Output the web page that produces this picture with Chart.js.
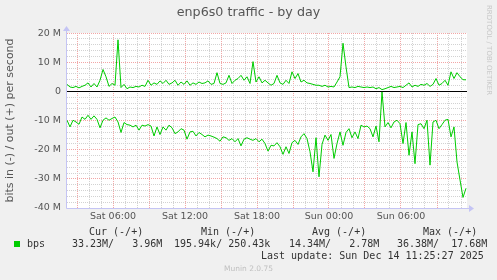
<!DOCTYPE html>
<html>
<head>
<meta charset="utf-8">
<title>enp6s0 traffic - by day</title>
<script src="https://cdn.jsdelivr.net/npm/chart.js@4.4.1/dist/chart.umd.min.js"></script>
<style>
  html, body { margin: 0; padding: 0; background: #f0f0f0; }
  #wrap { position: relative; width: 497px; height: 280px; overflow: hidden; }
  #graph { position: absolute; left: 0; top: 0; }
  .mono { position: absolute; font-family: 'DejaVu Sans Mono', monospace; font-size: 10px; line-height: 12px; color: #333; white-space: pre; }
  .swatch { position: absolute; left: 14px; top: 241px; width: 6px; height: 6px; background: #00cc00; }
  .credit { position: absolute; left: 0; width: 497px; top: 264px; text-align: center; font-family: 'DejaVu Sans', sans-serif; font-size: 7.5px; line-height: 10px; color: #c0c0c0; }
  .rrd { position: absolute; left: 484px; top: 5px; font-family: 'DejaVu Sans', sans-serif; font-size: 7px; line-height: 9px; color: #c8c8c8; white-space: pre; transform-origin: 0 0; transform: translate(9px, 0) rotate(90deg); }
</style>
</head>
<body>
<div id="wrap">
  <canvas id="graph" width="497" height="280"></canvas>
  <div class="rrd">RRDTOOL / TOBI OETIKER</div>
  <div class="mono" style="left:89px; top:226px">Cur (-/+)</div>
  <div class="mono" style="left:201px; top:226px">Min (-/+)</div>
  <div class="mono" style="left:312px; top:226px">Avg (-/+)</div>
  <div class="mono" style="left:423px; top:226px">Max (-/+)</div>
  <div class="swatch"></div>
  <div class="mono" style="left:27px; top:238px">bps</div>
  <div class="mono" id="cur" style="left:72px; top:238px"></div>
  <div class="mono" id="min" style="left:174px; top:238px"></div>
  <div class="mono" id="avg" style="left:289px; top:238px"></div>
  <div class="mono" id="max" style="left:397px; top:238px"></div>
  <div class="mono" style="left:261px; top:250px">Last update: Sun Dec 14 11:25:27 2025</div>
  <div class="credit">Munin 2.0.75</div>
</div>
<script>
// samples every 15 minutes, first one at Sat 02:10 (hours counted from Sat 00:00)
const startHour = 2 + 10 / 60;
const stepHours = 0.25;
const endHour = startHour + 400 / 12;

// out (+), Mbit/s
const outMbps = [
  2.4, 1.5, 1.3, 1.7, 1.2, 1.7, 2.1, 2.9, 1.5, 2.7,
  1.5, 3.8, 7.5, 5.0, 1.7, 2.7, 2.1, 17.68, 1.3, 2.4,
  0.9, 1.5, 1.3, 1.7, 1.5, 2.1, 1.7, 3.8, 2.1, 2.9,
  2.4, 3.6, 2.7, 3.8, 2.4, 2.9, 3.8, 2.1, 3.2, 2.4,
  3.6, 2.1, 2.9, 2.4, 3.2, 2.7, 2.9, 3.6, 2.4, 2.7,
  6.4, 2.7, 2.4, 2.9, 5.5, 2.7, 3.8, 4.4, 5.5, 3.8,
  5.0, 2.7, 10.2, 3.2, 5.0, 2.9, 3.8, 2.9, 2.1, 2.7,
  5.5, 2.9, 2.4, 3.8, 2.7, 6.7, 4.4, 6.1, 3.2, 3.8,
  2.9, 2.7, 2.4, 2.1, 2.1, 1.7, 2.1, 1.5, 1.7, 1.5,
  3.2, 5.0, 16.5, 8.4, 1.3, 1.5, 1.3, 1.7, 1.5, 1.3,
  1.5, 1.3, 1.5, 0.9, 1.3, 0.6, 0.9, 1.3, 1.7, 1.3,
  1.5, 1.7, 1.3, 2.1, 2.9, 1.5, 2.1, 1.7, 2.4, 2.1,
  2.7, 1.7, 2.4, 4.4, 2.1, 2.7, 3.8, 2.1, 6.7, 4.4,
  6.4, 5.0, 4.0, 3.96
];

// in (-), Mbit/s, drawn below zero
const inMbps = [
  -9.9, -12.2, -9.9, -10.5, -11.3, -8.8, -9.6, -8.2, -9.6, -8.4,
  -9.6, -12.5, -9.9, -9.1, -9.9, -9.3, -8.8, -10.5, -14.1, -10.7,
  -11.4, -11.6, -12.2, -11.6, -13.3, -11.6, -11.9, -11.4, -11.9, -15.3,
  -12.2, -14.8, -12.2, -13.3, -11.6, -12.5, -14.5, -13.9, -12.8, -13.3,
  -16.4, -13.9, -13.7, -15.3, -14.1, -14.8, -15.6, -15.0, -15.3, -15.7,
  -16.2, -17.1, -15.6, -15.9, -16.8, -16.2, -17.3, -16.2, -18.7, -16.4,
  -15.9, -16.4, -16.8, -16.2, -17.3, -16.4, -17.9, -20.5, -18.5, -18.7,
  -17.6, -19.0, -21.6, -19.0, -21.3, -17.6, -16.8, -18.2, -15.6, -14.5,
  -16.2, -20.7, -27.6, -15.9, -29.3, -18.2, -15.0, -16.8, -14.8, -23.0,
  -17.9, -13.9, -18.5, -14.1, -12.8, -15.9, -13.9, -16.2, -11.6, -12.2,
  -11.9, -12.8, -15.6, -11.9, -17.3, -0.2, -12.2, -10.7, -12.5, -10.5,
  -9.9, -11.1, -17.9, -10.7, -21.9, -13.9, -24.8, -11.4, -11.1, -12.8,
  -9.9, -25.3, -10.5, -9.9, -12.8, -11.4, -9.9, -9.6, -15.6, -12.2,
  -24.2, -30.4, -36.38, -33.23
];

const tickHours = [6, 12, 18, 24, 30];
const tickLabels = ['Sat 06:00', 'Sat 12:00', 'Sat 18:00', 'Sun 00:00', 'Sun 06:00'];
const yTicks = [20, 10, 0, -10, -20, -30, -40];

// legend figures (in / out)
const curText = '33.23M/   3.96M';
const minText = '195.94k/ 250.43k';
const avgText = '14.34M/   2.78M';
const maxText = '36.38M/  17.68M';

document.getElementById('cur').textContent = curText;
document.getElementById('min').textContent = minText;
document.getElementById('avg').textContent = avgText;
document.getElementById('max').textContent = maxText;

const sampleHours = outMbps.map((_, i) => startHour + i * stepHours);

const gridRed = '#f2a6a6';
const gridGrey = '#d2d2d2';
const axisBlue = '#c4c4f4';

// white plot area, black zero line, rrdtool style axes with arrows
const muninFrame = {
  id: 'muninFrame',
  beforeDraw(chart) {
    const { ctx, chartArea: a } = chart;
    ctx.save();
    ctx.fillStyle = '#f0f0f0';
    ctx.fillRect(0, 0, chart.width, chart.height);
    ctx.fillStyle = '#ffffff';
    ctx.fillRect(a.left, a.top, a.right - a.left, a.bottom - a.top);
    ctx.restore();
  },
  beforeDatasetsDraw(chart) {
    const { ctx, chartArea: a } = chart;
    const y0 = Math.round(chart.scales.y.getPixelForValue(0)) + 0.5;
    ctx.save();
    ctx.strokeStyle = '#000000';
    ctx.lineWidth = 1;
    ctx.beginPath();
    ctx.moveTo(a.left, y0);
    ctx.lineTo(a.right, y0);
    ctx.stroke();
    ctx.restore();
  },
  afterDatasetsDraw(chart) {
    const { ctx, chartArea: a } = chart;
    const xb = a.left - 0.5;
    const yb = a.bottom + 0.5;
    ctx.save();
    ctx.strokeStyle = axisBlue;
    ctx.fillStyle = axisBlue;
    ctx.lineWidth = 1;
    ctx.beginPath();
    ctx.moveTo(xb, yb);
    ctx.lineTo(a.right + 3, yb);
    ctx.moveTo(xb, yb);
    ctx.lineTo(xb, a.top - 3);
    ctx.stroke();
    ctx.beginPath();
    ctx.moveTo(a.right + 2, yb - 3.5);
    ctx.lineTo(a.right + 7, yb);
    ctx.lineTo(a.right + 2, yb + 3.5);
    ctx.closePath();
    ctx.fill();
    ctx.beginPath();
    ctx.moveTo(xb - 3.5, a.top - 2);
    ctx.lineTo(xb, a.top - 7);
    ctx.lineTo(xb + 3.5, a.top - 2);
    ctx.closePath();
    ctx.fill();
    ctx.restore();
  }
};

Chart.defaults.font.family = "'DejaVu Sans', sans-serif";
Chart.defaults.color = '#555555';

new Chart(document.getElementById('graph'), {
  type: 'line',
  data: {
    datasets: [
      {
        label: 'bps in',
        data: sampleHours.map((h, i) => ({ x: h, y: inMbps[i] })),
        borderColor: '#00cc00',
        borderWidth: 1,
        pointRadius: 0,
        tension: 0,
        fill: false
      },
      {
        label: 'bps out',
        data: sampleHours.map((h, i) => ({ x: h, y: outMbps[i] })),
        borderColor: '#00cc00',
        borderWidth: 1,
        pointRadius: 0,
        tension: 0,
        fill: false
      }
    ]
  },
  options: {
    responsive: false,
    animation: false,
    devicePixelRatio: 1,
    layout: { padding: 0 },
    plugins: {
      legend: { display: false },
      tooltip: { enabled: false },
      title: {
        display: true,
        text: 'enp6s0 traffic - by day',
        color: '#555555',
        font: { size: 12.7, weight: 'normal' },
        padding: { top: 5.5, bottom: 12.3 }
      }
    },
    scales: {
      x: {
        type: 'linear',
        min: startHour,
        max: endHour,
        afterBuildTicks(scale) {
          const ticks = [];
          for (let h = 3; h < endHour; h++) ticks.push({ value: h });
          scale.ticks = ticks;
        },
        afterFit(scale) { scale.height = 72; },
        ticks: {
          autoSkip: false,
          maxRotation: 0,
          padding: 3,
          color: '#555555',
          font: { size: 9.5 },
          callback(value) {
            const k = tickHours.indexOf(value);
            return k >= 0 ? tickLabels[k] : '';
          }
        },
        grid: {
          drawTicks: false,
          lineWidth: 1,
          color: (c) => (c.tick && c.tick.value % 3 === 0 ? gridRed : gridGrey)
        },
        border: { display: false, dash: [1, 1] }
      },
      y: {
        type: 'linear',
        min: -40,
        max: 20,
        afterBuildTicks(scale) {
          const ticks = [];
          for (let v = -40; v <= 20; v += 2) ticks.push({ value: v });
          scale.ticks = ticks;
        },
        afterFit(scale) { scale.width = 67; },
        title: {
          display: true,
          text: 'bits in (-) / out (+) per second',
          color: '#555555',
          font: { size: 11 },
          padding: { top: 4, bottom: 0 }
        },
        ticks: {
          autoSkip: false,
          padding: 6,
          color: '#555555',
          font: { size: 9.5 },
          callback(value) {
            if (!yTicks.includes(value)) return '';
            return value === 0 ? '0' : value + ' M';
          }
        },
        grid: {
          drawTicks: false,
          lineWidth: 1,
          color: (c) => (c.tick && c.tick.value % 10 === 0 ? gridRed : gridGrey)
        },
        border: { display: false, dash: [1, 1] }
      },
      // empty strip on the right, keeps the plot at 400px and the title centred on the page
      yRight: {
        type: 'linear',
        position: 'right',
        min: -40,
        max: 20,
        afterFit(scale) { scale.width = 30; },
        ticks: { display: false },
        grid: { display: false, drawTicks: false },
        border: { display: false }
      }
    }
  },
  plugins: [muninFrame]
});
</script>
</body>
</html>
